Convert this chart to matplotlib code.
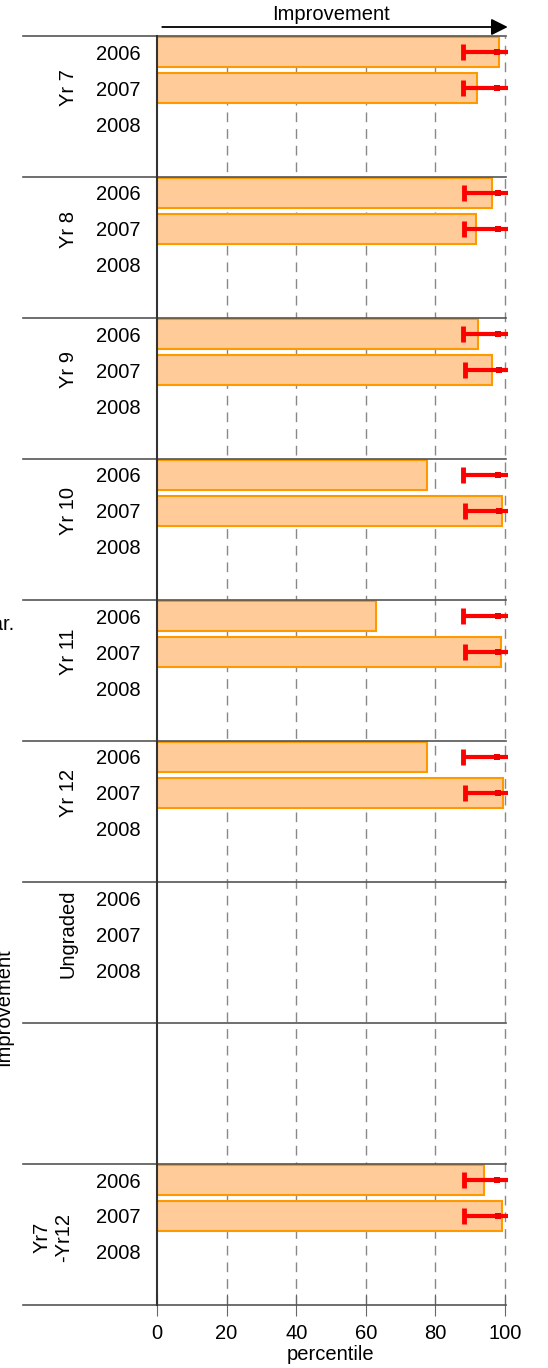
import numpy as np
import matplotlib
matplotlib.use('Agg')
import matplotlib.pyplot as plt
from matplotlib.transforms import blended_transform_factory

plt.rcParams['font.family'] = ['Liberation Sans', 'DejaVu Sans']
plt.rcParams['font.size'] = 14.5

groups = ['Yr 7', 'Yr 8', 'Yr 9', 'Yr 10', 'Yr 11', 'Yr 12', 'Ungraded', '', 'Yr7\n-Yr12']
years = ['2006', '2007', '2008']

# bar values (percentile), nan = no bar
pct_2006 = [98.3, 96.4, 92.1, 77.5, 62.8, 77.5, np.nan, np.nan, 94.0]
pct_2007 = [92.0, 91.6, 96.2, 99.2, 98.9, 99.5, np.nan, np.nan, 99.2]
pct_2008 = [np.nan] * 9

# red interval: low end, estimate, high end (runs off the right edge)
lo_2006 = [88.0, 88.1, 88.0, 88.0, 88.0, 88.0, np.nan, np.nan, 88.2]
lo_2007 = [88.0, 88.1, 88.4, 88.4, 88.4, 88.4, np.nan, np.nan, 88.2]
mid_2006 = [97.8, 97.9, 97.9, 97.9, 97.9, 97.7, np.nan, np.nan, 97.8]
mid_2007 = [97.8, 97.9, 98.3, 98.2, 98.0, 98.1, np.nan, np.nan, 98.1]
hi_2006 = [100.8, 100.8, 100.8, 100.8, 100.8, 100.8, np.nan, np.nan, 100.8]
hi_2007 = [100.8, 100.8, 100.8, 100.8, 100.8, 100.8, np.nan, np.nan, 100.8]

W, H = 548, 1368
fig = plt.figure(figsize=(W / 100, H / 100), dpi=100)
ax = fig.add_axes([157 / W, (H - 1305) / H, 348 / W, 1269 / H])

panel_h = 141 / 36.0   # panel height in row units
row0 = 16 / 36.0       # first row offset inside a panel
npan = len(groups)

bars = [pct_2006, pct_2007, pct_2008]
los = [lo_2006, lo_2007, [np.nan] * 9]
mids = [mid_2006, mid_2007, [np.nan] * 9]
his = [hi_2006, hi_2007, [np.nan] * 9]

ytk, ylab = [], []
for p in range(npan):
    for r in range(3):
        y = p * panel_h + row0 + r
        if groups[p] != '':
            ytk.append(y)
            ylab.append(years[r])
        v = bars[r][p]
        if not np.isnan(v):
            ax.barh(y, v, height=30 / 36.0, color='#FFCC99', edgecolor='#FF9900', linewidth=1.5, zorder=2)
        if not np.isnan(los[r][p]):
            ax.plot([los[r][p], his[r][p]], [y, y], color='#FF0000', lw=3, clip_on=False, zorder=4,
                    solid_capstyle='butt')
            ax.plot(los[r][p], y, marker='|', ms=12, mew=3.5, color='#FF0000', zorder=4)
            ax.plot(mids[r][p], y, marker='s', ms=4, color='#EE0000', mew=0, zorder=5)

ax.set_xlim(0, 100)
ax.set_ylim(npan * panel_h, 0)
ax.set_xticks([0, 20, 40, 60, 80, 100])
ax.set_yticks(ytk)
ax.set_yticklabels(ylab)
ax.tick_params(axis='y', length=0, pad=12)
ax.tick_params(axis='x', direction='inout', length=16, color='#666666', pad=6)
ax.set_xlabel('percentile', labelpad=1)

for s in ['top', 'right', 'bottom']:
    ax.spines[s].set_visible(False)
ax.spines['left'].set_color('#333333')
ax.spines['left'].set_linewidth(1.5)
ax.spines['left'].set_zorder(6)

# dashed grid
for gx in [20, 40, 60, 80, 100]:
    ax.axvline(gx, color='#888888', lw=1, ls=(0, (7, 5)), zorder=1, clip_on=False)

# panel separators extending into the label area
trans = blended_transform_factory(fig.transFigure, ax.transData)
for p in range(npan + 1):
    ax.plot([23 / W, 506 / W], [p * panel_h, p * panel_h], color='#555555', lw=1.2,
            transform=trans, clip_on=False, zorder=3)

# group labels
for p, g in enumerate(groups):
    if g == '':
        continue
    yc = p * panel_h + row0 + (1.6 if '\n' in g else 1.0)
    fig.text(68 / W if '\n' not in g else 53 / W, yc, g, rotation=90, ha='center', va='center',
             transform=trans)

# improvement arrow on top
ax.annotate('', xy=(100.8, 1.0 + 9 / 1269), xytext=(1.5, 1.0 + 9 / 1269),
            xycoords=('data', 'axes fraction'), textcoords=('data', 'axes fraction'),
            arrowprops=dict(arrowstyle='-|>', color='black', lw=1.3, mutation_scale=25,
                            shrinkA=0, shrinkB=0), annotation_clip=False)
ax.text(50, 1.0 + 22 / 1269, 'Improvement', ha='center', va='center',
        transform=blended_transform_factory(ax.transData, ax.transAxes))

# texts cut off by the left edge
fig.text(14 / W, 1 - 625 / H, 'Improvement on previous year.', ha='right', va='center')
fig.text(4 / W, 1 - 1007 / H, 'Improvement', rotation=90, ha='center', va='center')

fig.savefig('out.png', dpi=100)
